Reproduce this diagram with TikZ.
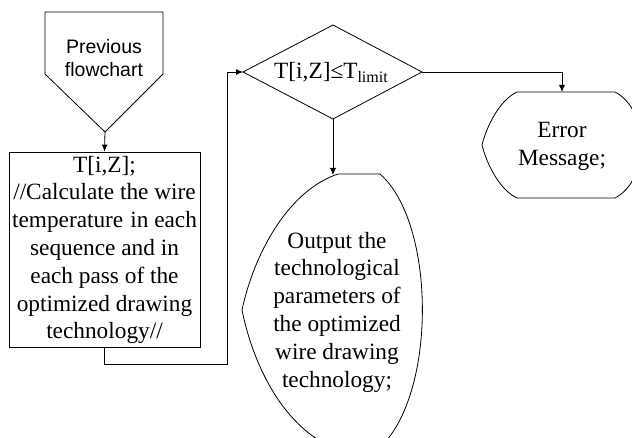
\documentclass[tikz,border=0pt]{standalone}
\usepackage{fontspec}
\setmainfont{Liberation Serif}
\newfontfamily\arialf{Liberation Sans}
\usetikzlibrary{arrows.meta}
\begin{document}
\begin{tikzpicture}[x=1pt,y=-1pt,
  shp/.style={draw=black, line width=0.8pt},
  conn/.style={draw=black, line width=0.8pt},
  arr/.style={conn, -{Latex[length=7pt,width=6pt]}},
  ttext/.style={font=\fontsize{23.3}{27.8}\selectfont, align=center, inner sep=0pt},
  stext/.style={font=\arialf\fontsize{19.5}{23}\selectfont, align=center, inner sep=0pt}]
\useasboundingbox (0,0) rectangle (632,438);
\clip (0,0) rectangle (632,438);

% off-page connector
\draw[shp] (45,12) -- (163,12) -- (163,74) -- (105,132) -- (45,74) -- cycle;
\coordinate (prevB) at (105,132);
\node[stext] (prev) at (104,58) {Previous\\flowchart};

% process box
\node[shp, minimum width=191pt, minimum height=195pt, inner sep=0pt] (calc) at (104.5,249.5) {};
\node[ttext] (calctxt) at (104.5,250) {T[i,Z];\\//Calculate the wire\\temperature\hspace{7pt}in each\\sequence and in\\each pass of the\\optimized drawing\\technology//};

% decision
\draw[shp] (243,72) -- (333,25) -- (422,72) -- (333,119) -- cycle;
\coordinate (decW) at (243,72);
\coordinate (decE) at (422,72);
\coordinate (decS) at (333,119);
\node[ttext] (dectxt) at (331,72) {T[i,Z]≤T\raisebox{-4pt}{\fontsize{16}{16}\selectfont limit}};

% output display
\draw[shp] (338,174) -- (380,174) .. controls (437,224) and (437,400) .. (377,450) -- (340,450)
  .. controls (290,434) and (255,374) .. (242,310) .. controls (255,250) and (290,190) .. (338,174) -- cycle;
\coordinate (outT) at (333,175);
\node[ttext] (outtxt) at (337,312) {Output the\\technological\\parameters of\\the optimized\\wire drawing\\technology;};

% error display
\draw[shp] (517,92) -- (615,92) .. controls (650,110) and (650,180) .. (615,198) -- (517,198)
  .. controls (500,190) and (487,165) .. (482,145) .. controls (487,125) and (500,100) .. (517,92) -- cycle;
\coordinate (errT) at (562,92);
\node[ttext] (errtxt) at (562,146) {Error\\Message;};

% connectors
\coordinate (k1) at (104.5,364);
\coordinate (k2) at (227,364);
\draw[arr] (prevB) -- (calc.north);
\draw[arr] (calc.south) -- (k1) -- (k2) |- (decW);
\draw[arr] (decS) -- (outT);
\draw[arr] (decE) -| (errT);
\end{tikzpicture}
\end{document}
